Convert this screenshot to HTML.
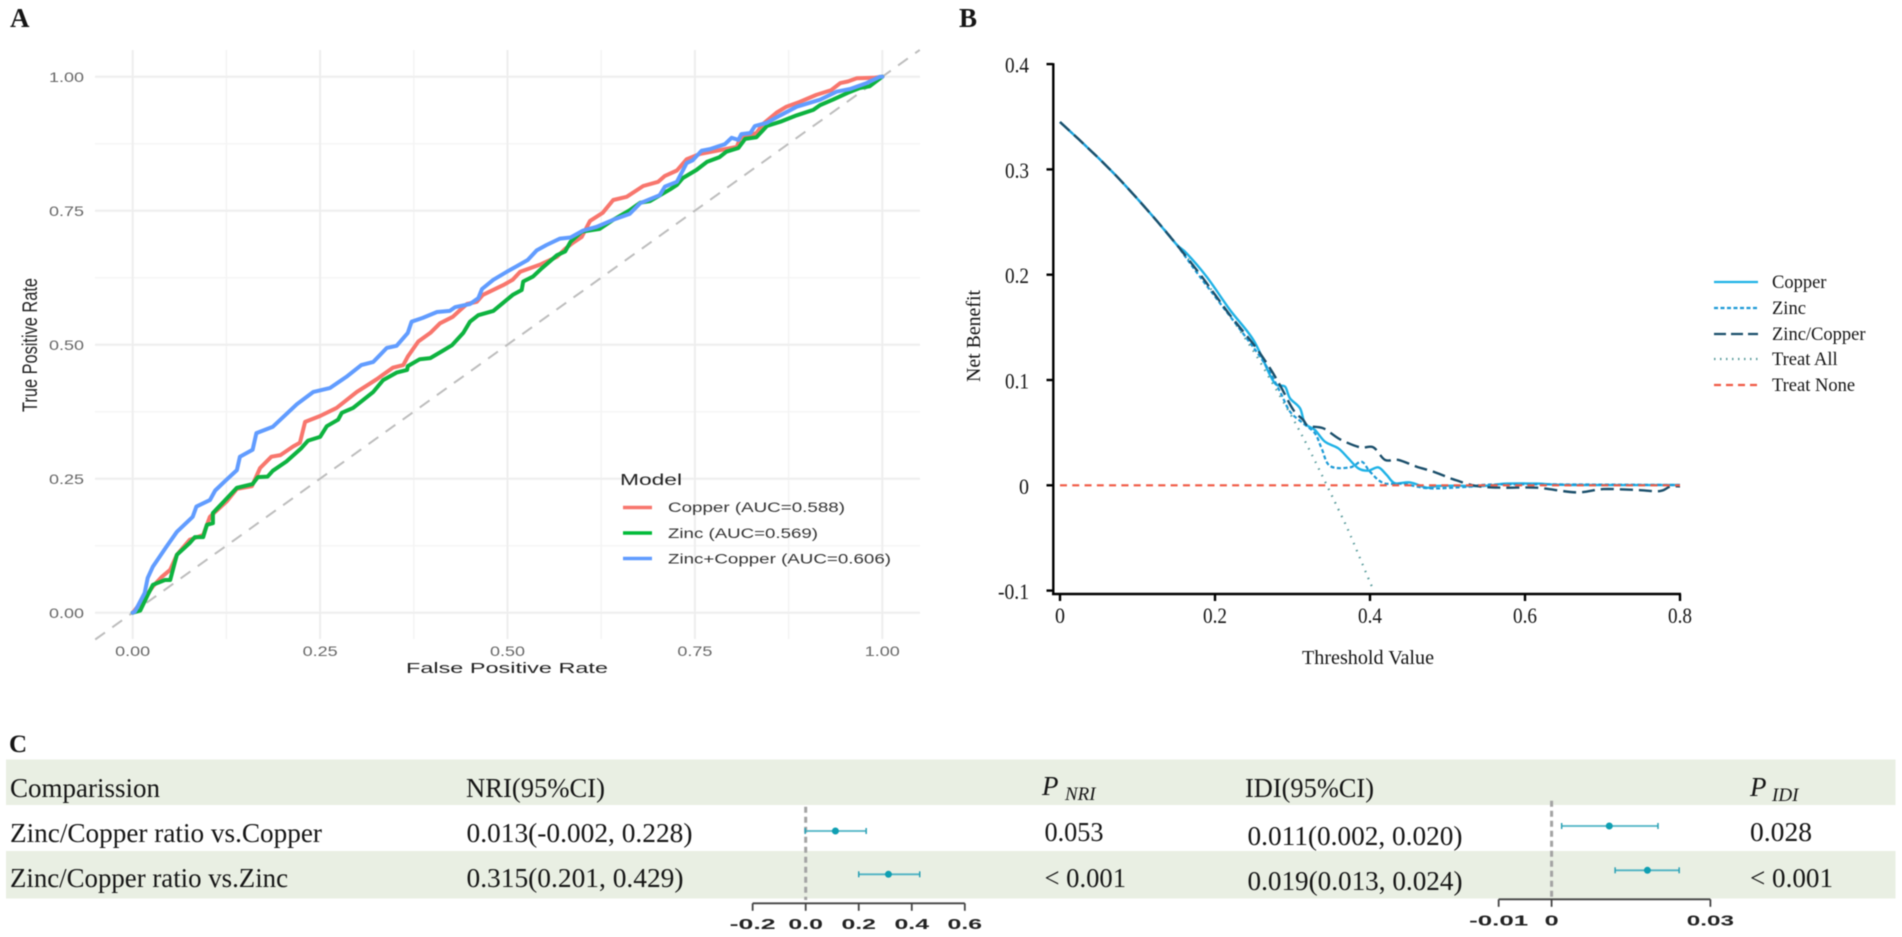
<!DOCTYPE html>
<html lang="en">
<head>
<meta charset="utf-8">
<title>ROC, decision curve and reclassification figure</title>
<style>
html,body{margin:0;padding:0;background:#fff;width:1902px;height:937px;overflow:hidden}
#figure{display:block;filter:blur(0.45px)}
.serif{font-family:"Liberation Serif",serif;fill:#151515}
.sans{font-family:"Liberation Sans",sans-serif}
.row{font-size:27px}
</style>
</head>
<body>
<svg id="figure" xmlns="http://www.w3.org/2000/svg" width="1902" height="937" viewBox="0 0 1902 937">
  <rect width="1902" height="937" fill="#fff"/>
  <text class="serif" x="10" y="27" font-size="27" font-weight="bold" fill="#000">A</text>
  <text class="serif" x="959" y="27" font-size="27" font-weight="bold" fill="#000">B</text>
  <text class="serif" x="9" y="752" font-size="25" font-weight="bold" fill="#000">C</text>

  <g id="rocGrid"></g>
  <g id="rocTicks"></g>
  <g id="rocMarks"></g>
  <text class="sans" x="406" y="673" font-size="15" textLength="202" lengthAdjust="spacingAndGlyphs" fill="#222">False Positive Rate</text>
  <text class="sans" transform="translate(37,412) rotate(-90)" font-size="21" textLength="134" lengthAdjust="spacingAndGlyphs" fill="#222">True Positive Rate</text>
  <g>
    <text class="sans" x="620" y="485" font-size="16" textLength="62" lengthAdjust="spacingAndGlyphs" fill="#222">Model</text>
    <line x1="623" x2="652" y1="507.5" y2="507.5" stroke="#F8766D" stroke-width="3.5"/>
    <line x1="623" x2="652" y1="533" y2="533" stroke="#00BA38" stroke-width="3.5"/>
    <line x1="623" x2="652" y1="558.5" y2="558.5" stroke="#619CFF" stroke-width="3.5"/>
    <text class="sans" x="668" y="512" font-size="13.5" textLength="177" lengthAdjust="spacingAndGlyphs" fill="#333">Copper (AUC=0.588)</text>
    <text class="sans" x="668" y="538" font-size="13.5" textLength="150" lengthAdjust="spacingAndGlyphs" fill="#333">Zinc (AUC=0.569)</text>
    <text class="sans" x="668" y="563.5" font-size="13.5" textLength="223" lengthAdjust="spacingAndGlyphs" fill="#333">Zinc+Copper (AUC=0.606)</text>
  </g>

  <g id="dcaMarks"></g>
  <g id="dcaAxes"></g>
  <text class="serif" x="1302" y="664" font-size="20" textLength="132" lengthAdjust="spacingAndGlyphs">Threshold Value</text>
  <text class="serif" transform="translate(980,382) rotate(-90)" font-size="20" textLength="92" lengthAdjust="spacingAndGlyphs">Net Benefit</text>
  <g>
    <line x1="1714" x2="1758" y1="282" y2="282" stroke="#1fb2e6" stroke-width="2.2"/>
    <line x1="1714" x2="1758" y1="308" y2="308" stroke="#1c9ad6" stroke-width="2.2" stroke-dasharray="4 2.5"/>
    <line x1="1714" x2="1758" y1="334" y2="334" stroke="#1b4f6b" stroke-width="2.2" stroke-dasharray="12 5"/>
    <line x1="1714" x2="1758" y1="359" y2="359" stroke="#5b9c9c" stroke-width="2.2" stroke-dasharray="1.5 4.5"/>
    <line x1="1714" x2="1758" y1="385" y2="385" stroke="#f05a45" stroke-width="2.2" stroke-dasharray="7 5"/>
    <text class="serif" x="1772" y="288" font-size="18.5">Copper</text>
    <text class="serif" x="1772" y="314" font-size="18.5">Zinc</text>
    <text class="serif" x="1772" y="340" font-size="18.5">Zinc/Copper</text>
    <text class="serif" x="1772" y="365" font-size="18.5">Treat All</text>
    <text class="serif" x="1772" y="391" font-size="18.5">Treat None</text>
  </g>

  <g>
    <rect x="6" y="759.5" width="1889.5" height="45.5" fill="#e9efe3"/>
    <rect x="6" y="851" width="1889.5" height="47.5" fill="#e9efe3"/>
    <text class="serif row" x="10" y="797" textLength="150" lengthAdjust="spacingAndGlyphs">Comparission</text>
    <text class="serif row" x="466" y="797" textLength="139" lengthAdjust="spacingAndGlyphs">NRI(95%CI)</text>
    <text class="serif row" x="1042" y="795" font-style="italic">P</text>
    <text class="serif" x="1065" y="800" font-size="19" font-style="italic" textLength="30.5" lengthAdjust="spacingAndGlyphs">NRI</text>
    <text class="serif row" x="1245" y="797" textLength="129" lengthAdjust="spacingAndGlyphs">IDI(95%CI)</text>
    <text class="serif row" x="1750" y="796" font-style="italic">P</text>
    <text class="serif" x="1772" y="801" font-size="19" font-style="italic" textLength="26.5" lengthAdjust="spacingAndGlyphs">IDI</text>
    <text class="serif row" x="10" y="842" textLength="312" lengthAdjust="spacingAndGlyphs">Zinc/Copper ratio vs.Copper</text>
    <text class="serif row" x="466.5" y="842" textLength="226" lengthAdjust="spacingAndGlyphs">0.013(-0.002, 0.228)</text>
    <text class="serif row" x="1044.5" y="841" textLength="59" lengthAdjust="spacingAndGlyphs">0.053</text>
    <text class="serif row" x="1247.5" y="845" textLength="215" lengthAdjust="spacingAndGlyphs">0.011(0.002, 0.020)</text>
    <text class="serif row" x="1750" y="841" textLength="62" lengthAdjust="spacingAndGlyphs">0.028</text>
    <text class="serif row" x="10" y="887" textLength="278" lengthAdjust="spacingAndGlyphs">Zinc/Copper ratio vs.Zinc</text>
    <text class="serif row" x="466.5" y="887" textLength="217" lengthAdjust="spacingAndGlyphs">0.315(0.201, 0.429)</text>
    <text class="serif row" x="1044.5" y="887" textLength="81.5" lengthAdjust="spacingAndGlyphs">&lt; 0.001</text>
    <text class="serif row" x="1247.5" y="890" textLength="215" lengthAdjust="spacingAndGlyphs">0.019(0.013, 0.024)</text>
    <text class="serif row" x="1750" y="887" textLength="83" lengthAdjust="spacingAndGlyphs">&lt; 0.001</text>
  </g>
  <g id="forestNri"></g>
  <g id="forestIdi"></g>
</svg>

<script>
/* ---------- Panel A: ROC data ---------- */
const rocMajorTicks = [0, 0.25, 0.5, 0.75, 1];
const rocMinorTicks = [0.125, 0.375, 0.625, 0.875];
const rocTickLabels = ['0.00', '0.25', '0.50', '0.75', '1.00'];
const copperFpr = [0,.014,.027,.039,.050,.059,.076,.094,.103,.125,.139,.159,.170,.185,.197,.214,.223,.230,.250,.272,.299,.326,.347,.361,.367,.381,.397,.410,.427,.437,.446,.459,.467,.494,.507,.517,.543,.566,.577,.587,.599,.610,.627,.641,.659,.681,.701,.710,.726,.739,.757,.806,.810,.832,.841,.859,.872,.890,.912,.932,.944,.954,.966,.988,1];
const copperTpr = [0,.024,.049,.067,.080,.108,.136,.145,.179,.207,.231,.236,.270,.291,.294,.310,.317,.356,.367,.382,.412,.436,.457,.462,.478,.506,.522,.540,.552,.565,.576,.580,.593,.611,.621,.636,.649,.664,.679,.690,.701,.731,.746,.770,.776,.796,.804,.815,.825,.846,.856,.869,.885,.895,.912,.933,.944,.953,.966,.975,.988,.991,.997,.998,1];
const zincFpr = [0,.010,.020,.027,.043,.050,.056,.059,.076,.083,.094,.099,.107,.107,.120,.139,.160,.167,.180,.187,.205,.225,.234,.250,.259,.274,.279,.294,.321,.334,.352,.366,.367,.383,.397,.414,.426,.441,.450,.461,.481,.494,.507,.519,.521,.534,.546,.566,.577,.584,.599,.623,.641,.663,.677,.690,.717,.726,.734,.752,.766,.783,.792,.808,.817,.832,.846,.864,.886,.908,.917,.934,.954,.970,.983,1];
const zincTpr = [0,.004,.033,.052,.061,.061,.093,.108,.130,.141,.141,.164,.167,.186,.205,.233,.240,.253,.254,.265,.282,.307,.321,.328,.348,.360,.373,.382,.412,.434,.448,.453,.460,.473,.475,.489,.499,.522,.543,.555,.563,.578,.593,.602,.618,.627,.643,.667,.674,.692,.711,.716,.733,.751,.765,.768,.790,.798,.811,.826,.841,.850,.860,.867,.884,.887,.908,.916,.928,.938,.947,.957,.970,.979,.982,1];
const comboFpr = [0,.003,.016,.020,.027,.045,.059,.080,.085,.103,.110,.125,.139,.143,.160,.165,.187,.219,.241,.263,.285,.305,.321,.339,.352,.367,.372,.387,.406,.423,.430,.450,.461,.466,.481,.499,.512,.527,.539,.552,.570,.584,.601,.619,.641,.663,.677,.703,.710,.726,.739,.747,.759,.770,.790,.799,.808,.812,.824,.830,.846,.864,.886,.917,.939,.957,.979,.997,1];
const comboTpr = [0,.002,.037,.065,.086,.123,.151,.179,.198,.210,.228,.248,.266,.291,.304,.335,.347,.389,.412,.419,.440,.462,.468,.494,.498,.522,.543,.550,.561,.563,.570,.576,.587,.604,.621,.636,.646,.658,.676,.686,.698,.700,.713,.720,.733,.744,.764,.779,.795,.804,.839,.844,.862,.865,.874,.886,.882,.893,.895,.908,.914,.928,.944,.957,.972,.977,.988,1,1];
const rocDiagonal = [-0.05, 1.05];

/* ---------- Panel B: decision curve data ---------- */
const dcaYTicks = [0.4, 0.3, 0.2, 0.1, 0, -0.1];
const dcaYLabels = ['0.4', '0.3', '0.2', '0.1', '0', '-0.1'];
const dcaXTicks = [0, 0.2, 0.4, 0.6, 0.8];
const dcaXLabels = ['0', '0.2', '0.4', '0.6', '0.8'];
const treatAllPt = [0,.025,.05,.075,.1,.125,.15,.175,.2,.225,.25,.271,.3,.325,.3626,.375,.4,.405];
const treatAllNb = [.345,.328,.3105,.292,.272,.251,.229,.206,.181,.155,.127,.101,.064,.029,-.028,-.048,-.092,-.1];
const copperPt = [0,.025,.05,.075,.1,.125,.15,.1634,.1892,.2194,.2495,.271,.2796,.2903,.2968,.3097,.3161,.329,.3419,.3591,.372,.3849,.3978,.4108,.4215,.4323,.4516,.4731,.486,.5118,.5462,.5763,.615,.658,.8];
const copperNb = [.345,.328,.3105,.292,.272,.251,.229,.2203,.1981,.1665,.138,.1047,.0953,.0937,.0826,.0731,.0588,.0525,.0414,.0351,.0256,.0161,.0139,.017,.0098,.0019,.0028,-.0023,-.0007,-.0004,-.0007,.0016,.0016,.0003,.0003];
const zincPt = [0,.025,.05,.075,.1,.125,.15,.1806,.2409,.2667,.2839,.2968,.314,.329,.3376,.3484,.3742,.3892,.4,.4172,.443,.4774,.529,.572,.8];
const zincNb = [.345,.328,.3105,.292,.272,.251,.229,.198,.1396,.1126,.089,.07,.0588,.0493,.0351,.0183,.017,.0224,.0129,.0022,.0013,-.0029,-.0013,.0009,.0003];
const ratioPt = [0,.025,.05,.075,.1,.125,.15,.18,.2,.22,.25,.271,.286,.3011,.314,.3204,.3398,.3613,.3871,.4043,.4194,.4366,.4602,.4817,.5075,.5376,.572,.615,.6666,.701,.7441,.7742,.787,.8];
const ratioNb = [.345,.328,.3105,.292,.272,.251,.229,.201,.181,.161,.1335,.1111,.0921,.0715,.062,.0563,.0541,.0437,.0361,.0361,.0241,.0241,.0177,.013,.0057,-.0007,-.0023,-.0023,-.0067,-.0036,-.0045,-.0055,-.0013,-.001];
const treatNonePt = [0, 0.8];
const treatNoneNb = [0, 0];

/* ---------- Panel C: forest plot data ---------- */
const nriTicks = [-0.2, 0, 0.2, 0.4, 0.6];
const nriLabels = ['-0.2', '0.0', '0.2', '0.4', '0.6'];
const nriLow = [-0.002, 0.2];
const nriMid = [0.112, 0.312];
const nriHigh = [0.228, 0.43];
const idiTicks = [-0.01, 0, 0.03];
const idiLabels = ['-0.01', '0', '0.03'];
const idiLow = [0.0019, 0.012];
const idiMid = [0.0109, 0.0181];
const idiHigh = [0.0201, 0.0241];

const SVGNS = 'http://www.w3.org/2000/svg';
function make(tag, attrs, parent) {
  const el = document.createElementNS(SVGNS, tag);
  for (const k in attrs) el.setAttribute(k, attrs[k]);
  parent.appendChild(el);
  return el;
}

/* ---------- axis functions ---------- */
const rocX = v => 132.7 + 749.6 * v;
const rocY = v => 612.7 - 536 * v;
const dcaX = v => 1060 + 775 * v;
const dcaY = v => 485.3 - 1053 * v;
const nriX = v => 805.7 + 265.2 * v;
const idiX = v => 1551.6 + 5293 * v;

function polyPoints(xs, ys, fx, fy) {
  return xs.map((x, i) => fx(x).toFixed(1) + ',' + fy(ys[i]).toFixed(1)).join(' ');
}
function smoothPath(xs, ys, fx, fy) {
  const p = xs.map((x, i) => [fx(x), fy(ys[i])]);
  let d = 'M' + p[0][0].toFixed(1) + ' ' + p[0][1].toFixed(1);
  for (let i = 0; i < p.length - 1; i++) {
    const a = p[Math.max(i - 1, 0)], b = p[i], c = p[i + 1], e = p[Math.min(i + 2, p.length - 1)];
    const c1x = b[0] + (c[0] - a[0]) / 6, c1y = b[1] + (c[1] - a[1]) / 6;
    const c2x = c[0] - (e[0] - b[0]) / 6, c2y = c[1] - (e[1] - b[1]) / 6;
    d += 'C' + c1x.toFixed(1) + ' ' + c1y.toFixed(1) + ' ' + c2x.toFixed(1) + ' ' + c2y.toFixed(1) + ' ' + c[0].toFixed(1) + ' ' + c[1].toFixed(1);
  }
  return d;
}

/* ---------- draw panel A ---------- */
const rocGrid = document.getElementById('rocGrid');
const rocTicksG = document.getElementById('rocTicks');
const rocMarks = document.getElementById('rocMarks');

rocMinorTicks.forEach(v => {
  const gx = make('line', {x1: rocX(v), x2: rocX(v), y1: 50, y2: 639, stroke: '#f4f4f4', 'stroke-width': 1.5}, rocGrid);
  
  
  const gy = make('line', {x1: 95, x2: 920, y1: rocY(v), y2: rocY(v), stroke: '#f5f5f5', 'stroke-width': 1.5}, rocGrid);
  
  
});
rocMajorTicks.forEach((v, i) => {
  const gx = make('line', {x1: rocX(v), x2: rocX(v), y1: 50, y2: 639, stroke: '#eeeeee', 'stroke-width': 2}, rocGrid);
  
  
  const gy = make('line', {x1: 95, x2: 920, y1: rocY(v), y2: rocY(v), stroke: '#eeeeee', 'stroke-width': 2}, rocGrid);
  
  
  const ty = make('text', {x: 49, y: rocY(v) + 5.5, 'font-size': 14, textLength: 35, lengthAdjust: 'spacingAndGlyphs', fill: '#666', class: 'sans'}, rocTicksG);
  ty.textContent = rocTickLabels[i];
  
  
  const tx = make('text', {x: rocX(v) - 17.5, y: 656, 'font-size': 14, textLength: 35, lengthAdjust: 'spacingAndGlyphs', fill: '#666', class: 'sans'}, rocTicksG);
  tx.textContent = rocTickLabels[i];
  
  
});

const diagonal = make('line', {x1: rocX(rocDiagonal[0]), y1: rocY(rocDiagonal[0]), x2: rocX(rocDiagonal[1]), y2: rocY(rocDiagonal[1]), stroke: '#bdbdbd', 'stroke-width': 2, 'stroke-dasharray': '12 9'}, rocMarks);



const rocStyle = {fill: 'none', 'stroke-width': 4, 'stroke-linejoin': 'round', 'stroke-linecap': 'round'};
const copperLine = make('polyline', Object.assign({points: polyPoints(copperFpr, copperTpr, rocX, rocY), stroke: '#F8766D'}, rocStyle), rocMarks);


const zincLine = make('polyline', Object.assign({points: polyPoints(zincFpr, zincTpr, rocX, rocY), stroke: '#0DB33F'}, rocStyle), rocMarks);


const comboLine = make('polyline', Object.assign({points: polyPoints(comboFpr, comboTpr, rocX, rocY), stroke: '#619CFF'}, rocStyle), rocMarks);



/* ---------- draw panel B ---------- */
const dcaMarks = document.getElementById('dcaMarks');
const dcaAxes = document.getElementById('dcaAxes');

const treatAllLine = make('path', {d: smoothPath(treatAllPt, treatAllNb, dcaX, dcaY), fill: 'none', stroke: '#5b9c9c', 'stroke-width': 2.2, 'stroke-dasharray': '1.5 6'}, dcaMarks);


const dcaCopperLine = make('path', {d: smoothPath(copperPt, copperNb, dcaX, dcaY), fill: 'none', stroke: '#1fb2e6', 'stroke-width': 2.4}, dcaMarks);


const dcaZincLine = make('path', {d: smoothPath(zincPt, zincNb, dcaX, dcaY), fill: 'none', stroke: '#1c9ad6', 'stroke-width': 2.2, 'stroke-dasharray': '4 2.5'}, dcaMarks);


const ratioLine = make('path', {d: smoothPath(ratioPt, ratioNb, dcaX, dcaY), fill: 'none', stroke: '#1b4f6b', 'stroke-width': 2.4, 'stroke-dasharray': '13 6'}, dcaMarks);


const treatNoneLine = make('path', {d: smoothPath(treatNonePt, treatNoneNb, dcaX, dcaY), fill: 'none', stroke: '#f05a45', 'stroke-width': 2.2, 'stroke-dasharray': '7 5.3'}, dcaMarks);



const dcaYAxis = make('line', {x1: 1053.3, x2: 1053.3, y1: dcaY(dcaYTicks[0]) - 1, y2: 595, stroke: '#000', 'stroke-width': 2.4}, dcaAxes);


const dcaXAxis = make('line', {x1: 1052, x2: dcaX(dcaXTicks[dcaXTicks.length - 1]) + 1, y1: 594, y2: 594, stroke: '#000', 'stroke-width': 2.4}, dcaAxes);


dcaYTicks.forEach((v, i) => {
  const t = make('line', {x1: 1046.5, x2: 1053, y1: dcaY(v), y2: dcaY(v), stroke: '#000', 'stroke-width': 2.4}, dcaAxes);
  
  
  const l = make('text', {x: 1029, y: dcaY(v) + 8.5, 'font-size': 22, 'text-anchor': 'end', class: 'serif', textLength: dcaYLabels[i].length === 1 ? 10 : (dcaYLabels[i].length === 3 ? 24 : 31), lengthAdjust: 'spacingAndGlyphs'}, dcaAxes);
  l.textContent = dcaYLabels[i];
  
  
});
dcaXTicks.forEach((v, i) => {
  const t = make('line', {x1: dcaX(v), x2: dcaX(v), y1: 594, y2: 601, stroke: '#000', 'stroke-width': 2.4}, dcaAxes);
  
  
  const l = make('text', {x: dcaX(v), y: 623, 'font-size': 22, 'text-anchor': 'middle', class: 'serif', textLength: dcaXLabels[i].length === 1 ? 10 : 24, lengthAdjust: 'spacingAndGlyphs'}, dcaAxes);
  l.textContent = dcaXLabels[i];
  
  
});

/* ---------- draw panel C ---------- */
function drawForest(group, fx, ticks, labels, low, mid, high, rowY, zeroTop, zeroBottom, axisY, labelY, labelWidth) {
  const zero = make('line', {x1: fx(0), x2: fx(0), y1: zeroTop, y2: zeroBottom, stroke: '#a3a3a3', 'stroke-width': 3, 'stroke-dasharray': '6 4'}, group);
  
  
  low.forEach((lo, i) => {
    const y = rowY[i];
    const bar = make('line', {x1: fx(lo), x2: fx(high[i]), y1: y, y2: y, stroke: '#4fb3c4', 'stroke-width': 1.8}, group);
    
    
    const capL = make('line', {x1: fx(lo), x2: fx(lo), y1: y - 3, y2: y + 3, stroke: '#2aa0b4', 'stroke-width': 1.5}, group);
    
    
    const capH = make('line', {x1: fx(high[i]), x2: fx(high[i]), y1: y - 3, y2: y + 3, stroke: '#2aa0b4', 'stroke-width': 1.5}, group);
    
    
    const dot = make('circle', {cx: fx(mid[i]), cy: y, r: 3.5, fill: '#0f9fb2'}, group);
    
    
  });
  const axis = make('line', {x1: fx(ticks[0]), x2: fx(ticks[ticks.length - 1]), y1: axisY, y2: axisY, stroke: '#444', 'stroke-width': 1.8}, group);
  
  
  ticks.forEach((v, i) => {
    const t = make('line', {x1: fx(v), x2: fx(v), y1: axisY, y2: axisY + 7.5, stroke: '#444', 'stroke-width': 1.8}, group);
    
    
    const l = make('text', {x: fx(v), y: labelY, 'font-size': 15, 'font-weight': 'bold', 'text-anchor': 'middle', class: 'sans', fill: '#222', textLength: labelWidth(labels[i]), lengthAdjust: 'spacingAndGlyphs'}, group);
    l.textContent = labels[i];
    
    
  });
}
const nriRowY = [831, 874.3];
const idiRowY = [826, 870.3];
drawForest(document.getElementById('forestNri'), nriX, nriTicks, nriLabels, nriLow, nriMid, nriHigh, nriRowY, 806.7, 900, 903.3, 929, s => s.length * 11.5);
drawForest(document.getElementById('forestIdi'), idiX, idiTicks, idiLabels, idiLow, idiMid, idiHigh, idiRowY, 800.7, 896.7, 899.3, 925.7, s => s.length === 1 ? 14 : s.length * 11.8);
</script>
</body>
</html>
